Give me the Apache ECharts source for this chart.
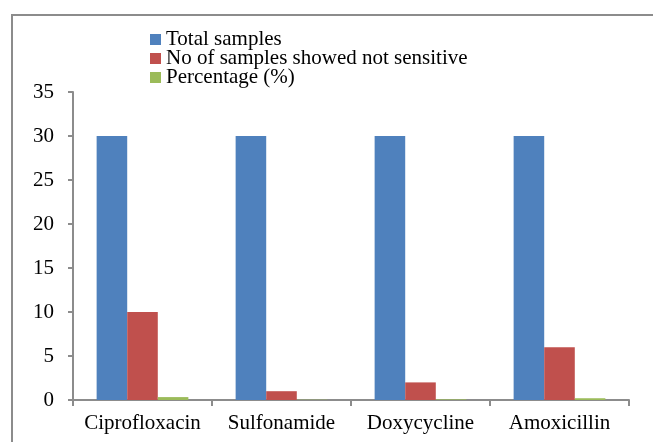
<!DOCTYPE html>
<html>
<head>
<meta charset="utf-8">
<script src="https://cdn.jsdelivr.net/npm/echarts@6/dist/echarts.min.js"></script>
<style>
  html, body { margin: 0; padding: 0; background: #fff; }
  #chart { width: 653px; height: 442px; }
</style>
</head>
<body>
<div id="chart"></div>
<script>
// drug categories
var drugs = ['Ciprofloxacin', 'Sulfonamide', 'Doxycycline', 'Amoxicillin'];
var totalSamples = [30, 30, 30, 30];
var notSensitive = [10, 1, 2, 6];
var percentage = [0.33, 0.03, 0.07, 0.2];
var yTicks = [0, 5, 10, 15, 20, 25, 30, 35];

var chart = echarts.init(document.getElementById('chart'));
var font = '"Liberation Serif", "Times New Roman", serif';

var option = {
    animation: false,
    color: ['#4F81BD', '#C0504D', '#9BBB59'],
    graphic: [{
        type: 'rect',
        shape: { x: 12, y: 15, width: 700, height: 500 },
        style: { fill: 'none', stroke: '#8c8c8c', lineWidth: 2 }
    }],
    legend: {
        orient: 'vertical',
        left: 145,
        top: 24,
        itemGap: -2,
        itemWidth: 11,
        itemHeight: 11,
        icon: 'rect',
        textStyle: { fontFamily: font, fontSize: 21, lineHeight: 19, color: '#000' },
        data: ['Total samples', 'No of samples showed not sensitive', 'Percentage (%)']
    },
    grid: { left: 73, right: 24, top: 92, bottom: 42 },
    xAxis: {
        type: 'category',
        data: drugs,
        axisLine: { lineStyle: { color: '#8c8c8c', width: 2 } },
        axisTick: { show: true, interval: 0, length: 6, lineStyle: { color: '#8c8c8c', width: 2 } },
        axisLabel: { interval: 0, fontFamily: font, fontSize: 21, color: '#000', margin: 13 }
    },
    yAxis: {
        type: 'value',
        min: yTicks[0],
        max: yTicks[yTicks.length - 1],
        interval: 5,
        splitLine: { show: false },
        axisLine: { show: true, lineStyle: { color: '#8c8c8c', width: 2 } },
        axisTick: { show: true, length: 5, lineStyle: { color: '#8c8c8c', width: 2 } },
        axisLabel: { fontFamily: font, fontSize: 21, color: '#000', margin: 19 }
    },
    series: [{
        name: 'Total samples',
        type: 'bar',
        barGap: '0%',
        barCategoryGap: '34%',
        data: totalSamples
    }, {
        name: 'No of samples showed not sensitive',
        type: 'bar',
        data: notSensitive
    }, {
        name: 'Percentage (%)',
        type: 'bar',
        data: percentage
    }]
};

chart.setOption(option);
</script>
</body>
</html>
